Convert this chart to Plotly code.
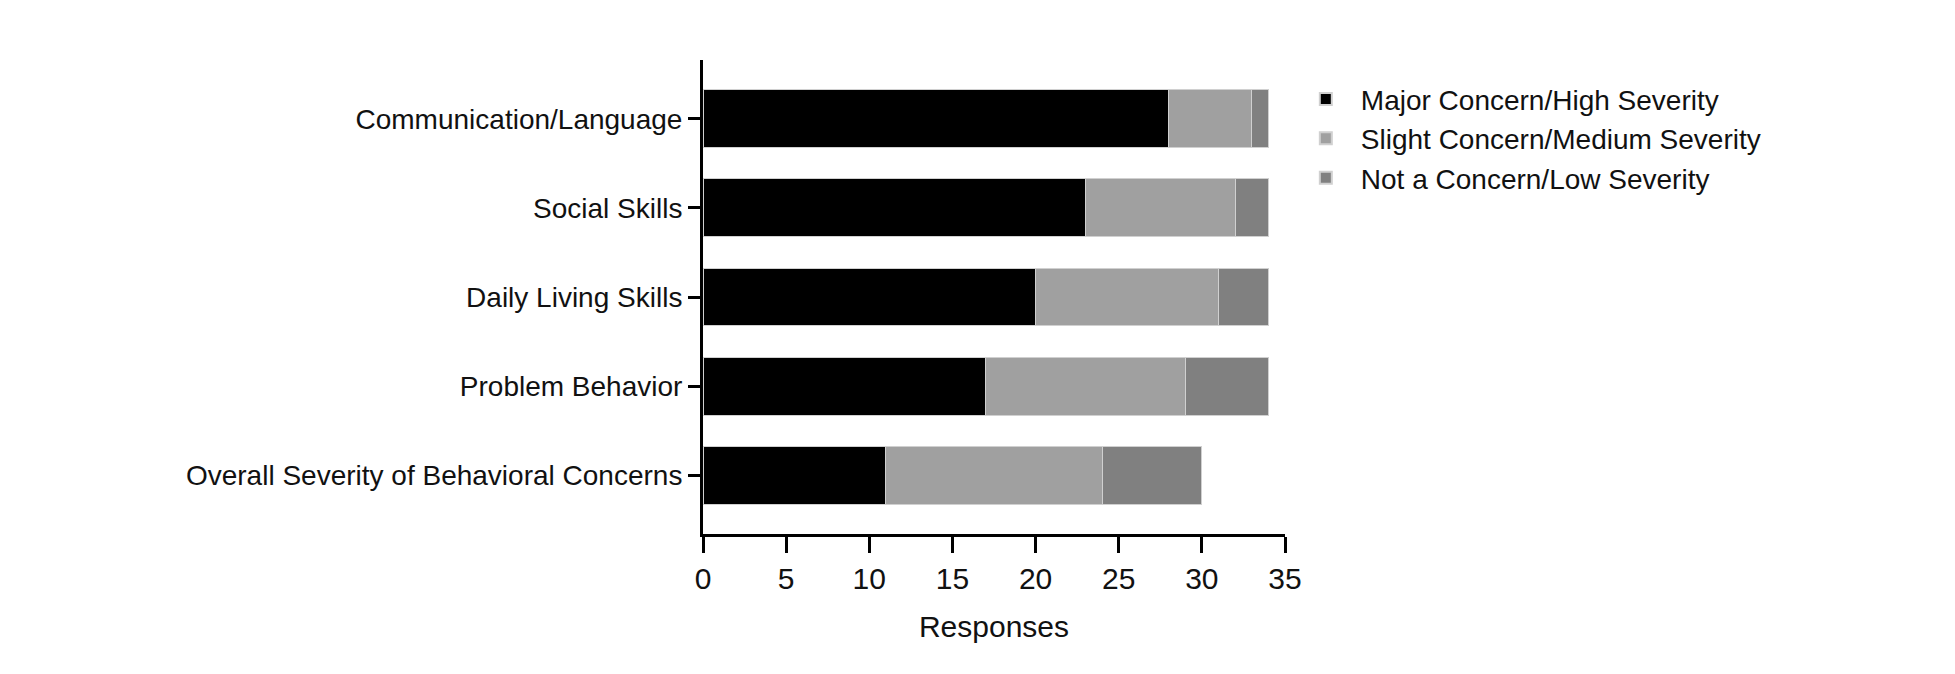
import plotly.graph_objects as go

categories = ["Communication/Language", "Social Skills", "Daily Living Skills",
              "Problem Behavior", "Overall Severity of Behavioral Concerns"]
major = [28, 23, 20, 17, 11]
slight = [5, 9, 11, 12, 13]
notc = [1, 2, 3, 5, 6]
names = ["Major Concern/High Severity", "Slight Concern/Medium Severity", "Not a Concern/Low Severity"]
colors = ["#000000", "#a0a0a0", "#808080"]

fig = go.Figure()
for vals, nm, c in zip([major, slight, notc], names, colors):
    fig.add_trace(go.Bar(y=categories, x=vals, name=nm, orientation="h",
                         marker=dict(color=c, line=dict(color="#d0d0d0", width=1))))

fig.update_layout(
    barmode="stack", bargap=0.35,
    width=1955, height=674,
    margin=dict(l=695, r=678, t=52, b=148),
    paper_bgcolor="white", plot_bgcolor="white",
    font=dict(family="Liberation Sans, Arial", size=28, color="#111"),
    legend=dict(x=1.01, y=0.97, xanchor="left", yanchor="top",
                traceorder="normal", font=dict(size=28), itemwidth=60,
                tracegroupgap=22, itemsizing="constant"),
    xaxis=dict(range=[0, 35], tickvals=[0, 5, 10, 15, 20, 25, 30, 35],
               showline=True, linecolor="black", linewidth=3,
               ticks="outside", ticklen=16, tickwidth=3, tickcolor="black",
               tickfont=dict(size=30), showgrid=False, zeroline=False,
               title=dict(text="Responses", standoff=22, font=dict(size=30))),
    yaxis=dict(autorange=False, range=[4.66, -0.66],
               showline=True, linecolor="black", linewidth=3,
               ticks="outside", ticklen=12, tickwidth=3, tickcolor="black",
               showgrid=False),
)
fig.write_html("out.html")
